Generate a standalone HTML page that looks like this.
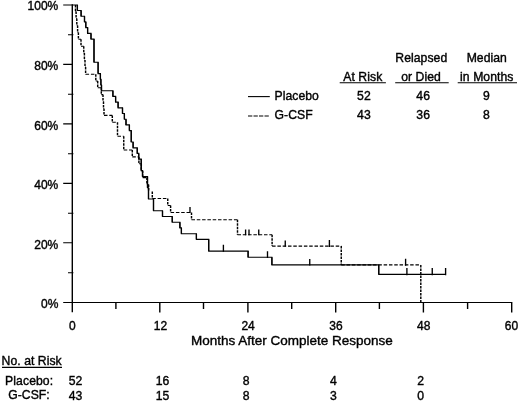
<!DOCTYPE html>
<html><head><meta charset="utf-8">
<style>
html,body{margin:0;padding:0;background:#fff;}
body{width:520px;height:401px;overflow:hidden;position:relative;font-family:"Liberation Sans",sans-serif;color:#000;}
svg{position:absolute;left:0;top:0;filter:grayscale(1);}
text{font-family:"Liberation Sans",sans-serif;fill:#000;stroke:#000;stroke-width:0.38px;}
.t{font-size:12px;}
.l{font-size:12.2px;letter-spacing:0.06px;}
.x{font-size:13.5px;}
</style></head><body>
<svg width="520" height="401" viewBox="0 0 520 401">
<g stroke="#000" fill="none">
<path stroke-width="1.1" d="M63.2 302.45H512.3M63.2 5H72.3M63.2 64.4H72.3M63.2 123.9H72.3M63.2 183.4H72.3M63.2 242.8H72.3M68 34.7H73.4M68 94.2H73.4M68 153.7H73.4M68 213.2H73.4M68 272.7H73.4"/>
<path stroke-width="1.4" d="M72.3 4.3V312.3M159.8 302.45V312.6M247.9 302.45V312.6M335.7 302.45V312.6M423.4 302.45V312.6M511.7 302.45V312.6M115.9 302.45V308.9M203.5 302.45V308.9M291.7 302.45V308.9M379.4 302.45V308.9M467.6 302.45V308.9"/>
</g>
<g class="t" text-anchor="end">
<text x="58.3" y="10.4">100%</text>
<text x="58.3" y="70.1">80%</text>
<text x="58.3" y="129.6">60%</text>
<text x="58.3" y="189.1">40%</text>
<text x="58.3" y="248.6">20%</text>
<text x="58.3" y="308.2">0%</text>
</g>
<g class="t" text-anchor="middle">
<text x="72.4" y="330.1">0</text>
<text x="160.5" y="330.1">12</text>
<text x="248.1" y="330.1">24</text>
<text x="335.9" y="330.1">36</text>
<text x="423.8" y="330.1">48</text>
<text x="511.5" y="330.1">60</text>
</g>
<text class="x" x="191" y="345.4">Months After Complete Response</text>
<g class="l">
<text x="1.6" y="364.7" letter-spacing="0.05">No. at Risk</text>
<text x="53.2" y="385" text-anchor="end" letter-spacing="0.08">Placebo:</text>
<text x="49.8" y="399.4" text-anchor="end">G-CSF:</text>
<text x="75.6" y="385" text-anchor="middle">52</text>
<text x="75.6" y="399.5" text-anchor="middle">43</text>
<text x="162.5" y="385" text-anchor="middle">16</text>
<text x="162.5" y="399.5" text-anchor="middle">15</text>
<text x="246.1" y="385" text-anchor="middle">8</text>
<text x="246.1" y="399.5" text-anchor="middle">8</text>
<text x="333.4" y="385" text-anchor="middle">4</text>
<text x="333.4" y="399.5" text-anchor="middle">3</text>
<text x="420.6" y="385" text-anchor="middle">2</text>
<text x="420.6" y="399.5" text-anchor="middle">0</text>
<text x="274.5" y="100.2">Placebo</text>
<text x="274.5" y="119.3">G-CSF</text>
<text x="363.9" y="100.2" text-anchor="middle">52</text>
<text x="363.9" y="119.3" text-anchor="middle">43</text>
<text x="423.2" y="100.2" text-anchor="middle">46</text>
<text x="423.2" y="119.3" text-anchor="middle">36</text>
<text x="486.4" y="100.2" text-anchor="middle">9</text>
<text x="486.4" y="119.3" text-anchor="middle">8</text>
<text x="362.8" y="80.7" text-anchor="middle">At Risk</text>
<text x="421.3" y="61.7" text-anchor="middle">Relapsed</text>
<text x="421" y="80.7" text-anchor="middle">or Died</text>
<text x="486.8" y="61.7" text-anchor="middle">Median</text>
<text x="486.8" y="80.7" text-anchor="middle">in Months</text>
</g>
<g stroke="#000" stroke-width="1.1" fill="none">
<path d="M2 367.4H62"/>
<path d="M339.7 82.7H385.9M395.2 82.7H448.7M457.7 82.7H517"/>
<path d="M248 96.6H269.8"/>
<path d="M248 116H268.8" stroke-dasharray="4.3 1.2"/>
</g>
<g stroke="#000" fill="none" stroke-linejoin="miter">
<path stroke-width="1.15" d="M72.3 5H77.4V10.5H81.1V16.2H84.5V21.9H85.8V27.6H87.6V33.4H91V39.1H94V62.2H98.1V73.6H100.4V79.3H100.9V85H101.5V90.7H112.9V96.4H115.6V102.1H118.1V107.8H122.5V113.5H124.4V119.2H126V124.9H129.4V130.6H131.25V142H133.1V147.8H137.25V153.4H138.75V159.1H141.25V170.6H142.5V176.6H147.5V187.7H148.5V199H153.5V210.7H162.5V216.5H172.25V222.2H179.9V227.9H181.4V233.7H196.4V239.3H208.7V251.1H248.1V257.2H271.9V264.9H378.75V274.3H445.7"/>
<path stroke-width="1.3" d="M77.4 5V10.5M81.1 10.5V16.2M84.5 16.2V21.9M85.8 21.9V27.6M87.6 27.6V33.4M91 33.4V39.1M94 39.1V62.2M98.1 62.2V73.6M100.4 73.6V79.3M100.9 79.3V85M101.5 85V90.7M112.9 90.7V96.4M115.6 96.4V102.1M118.1 102.1V107.8M122.5 107.8V113.5M124.4 113.5V119.2M126 119.2V124.9M129.4 124.9V130.6M131.25 130.6V142M133.1 142V147.8M137.25 147.8V153.4M138.75 153.4V159.1M141.25 159.1V170.6M142.5 170.6V176.6M147.5 176.6V187.7M148.5 187.7V199M153.5 199V210.7M162.5 210.7V216.5M172.25 216.5V222.2M179.9 222.2V227.9M181.4 227.9V233.7M196.4 233.7V239.3M208.7 239.3V251.1M248.1 251.1V257.2M271.9 257.2V264.9M378.75 264.9V274.3"/>
<path stroke-width="1.1" d="M75.5 11.6H76.1M76.1 18.5H76.8M76.8 25.4H77.6M77.6 32.4H78.4M78.4 39.3H81M81 46.2H83.75M83.75 53.1H84.4M84.4 60H85M85 66.9H85.6M85.6 74.3H95.8M95.8 81H97.7M97.7 87.8H101.3M101.3 94.6H103M103 101.5H103.5M103.5 108.5H104M104 115.4H112.3M112.3 122.3H117.5M117.5 136.2H123.75M123.75 150H132.3M132.3 156.9H138.9M138.9 163.8H141.3M141.3 170.7H142.7M142.7 177.6H146.9M146.9 184.5H148.6M152.3 198.5H167.75M167.75 205.5H170.6M170.6 212.5H191.5M191.5 219.8H237.5M237.5 234.7H272.1M272.1 246.1H341.25M341.25 264.9H420.8" stroke-dasharray="3.5 1.8"/>
<path stroke-width="1.45" d="M75.5 5V11.6M76.1 11.6V18.5M76.8 18.5V25.4M77.6 25.4V32.4M78.4 32.4V39.3M81 39.3V46.2M83.75 46.2V53.1M84.4 53.1V60M85 60V66.9M85.6 66.9V74.3M95.8 74.3V81M97.7 81V87.8M101.3 87.8V94.6M103 94.6V101.5M103.5 101.5V108.5M104 108.5V115.4M112.3 115.4V122.3M117.5 122.3V136.2M123.75 136.2V150M132.3 150V156.9M138.9 156.9V163.8M141.3 163.8V170.7M142.7 170.7V177.6M146.9 177.6V184.5M148.6 184.5V191M152.3 191.4V198.5M167.75 198.5V205.5M170.6 205.5V212.5M191.5 212.5V219.8M237.5 219.8V234.7M272.1 234.7V246.1M341.25 246.1V264.9M420.8 264.9V302" stroke-dasharray="2.5 1"/>
<path stroke-width="1.35" d="M223.4 244.7V251.7M267.5 251.2V257.9M309.75 259V265.4M406.9 268V275.2M432.25 268V275.2M445.6 268V275.2M190 206.9V213.1M245.6 229.4V235.3M249 229.4V235.3M258.75 229.4V235.3M285.25 240.6V246.7M329.4 240V247M405.6 258.7V265.7"/>
</g>
</svg>
</body></html>
